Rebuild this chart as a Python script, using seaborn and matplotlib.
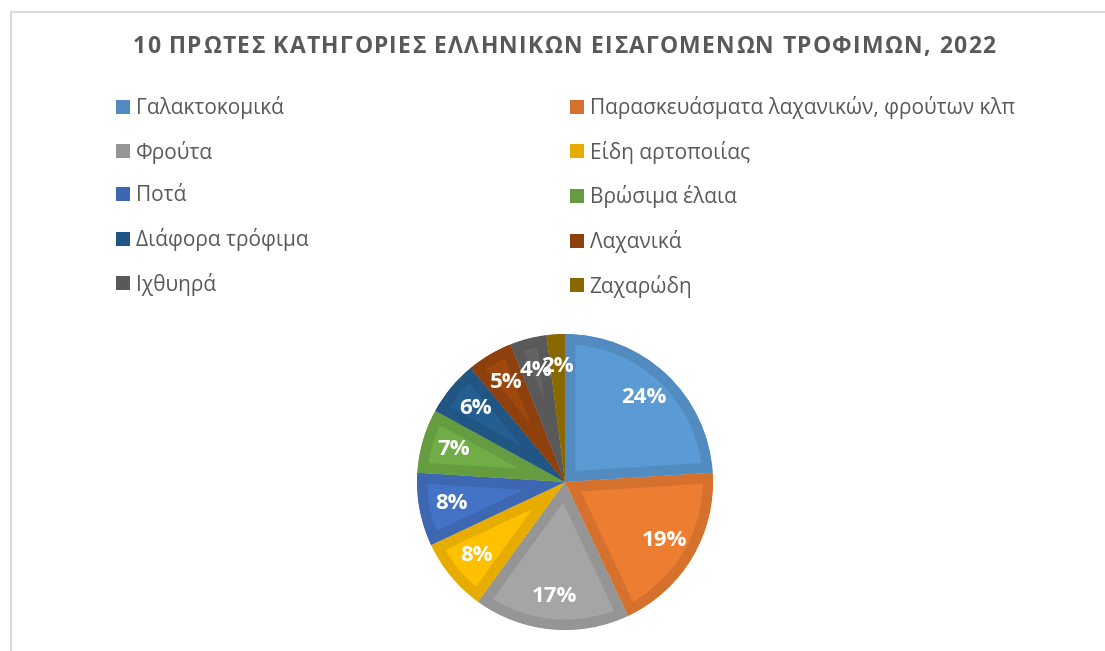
import matplotlib
matplotlib.use("Agg")
import matplotlib.pyplot as plt
from matplotlib.patches import Patch
from matplotlib.lines import Line2D
import seaborn as sns

categories = ["Γαλακτοκομικά", "Παρασκευάσματα λαχανικών, φρούτων κλπ", "Φρούτα",
              "Είδη αρτοποιίας", "Ποτά", "Βρώσιμα έλαια", "Διάφορα τρόφιμα",
              "Λαχανικά", "Ιχθυηρά", "Ζαχαρώδη"]
values = [24, 19, 17, 8, 8, 7, 6, 5, 4, 2]
title = "10 ΠΡΩΤΕΣ ΚΑΤΗΓΟΡΙΕΣ ΕΛΛΗΝΙΚΩΝ ΕΙΣΑΓΟΜΕΝΩΝ ΤΡΟΦΙΜΩΝ, 2022"

inner_colors = ["#5B9BD5", "#ED7D31", "#A5A5A5", "#FFC000", "#4472C4",
                "#70AD47", "#255E91", "#9E480E", "#636363", "#997300"]

sns.set_theme(style="white")
plt.rcParams["font.family"] = ["Open Sans", "DejaVu Sans"]

inner = sns.color_palette(inner_colors)
outer = [tuple(c * 0.9 for c in col) for col in inner]

W, H = 1105, 651
fig = plt.figure(figsize=(W / 100, H / 100), dpi=100)
fig.patch.set_facecolor("white")
renderer = fig.canvas.get_renderer()

# frame
fig.add_artist(Line2D([11 / W, 11 / W], [0, 1 - 12 / H], color="#D9D9D9", lw=1.5,
                      transform=fig.transFigure))
fig.add_artist(Line2D([11 / W, 1], [1 - 12 / H, 1 - 12 / H], color="#D9D9D9", lw=1.5,
                      transform=fig.transFigure))

# title with letter spacing
tkw = dict(fontsize=16.5, fontweight="bold", color="#595959", va="center", ha="left")


def text_width(s):
    t = fig.text(0, 0, s, **tkw)
    w = t.get_window_extent(renderer).width
    t.remove()
    return w


def char_adv(ch):
    if ch == " ":
        return text_width("Α Α") - text_width("ΑΑ")
    return text_width(ch)


advs = [char_adv(ch) for ch in title]
target_left, target_right = 133, 995
natural = sum(advs)
gap = (target_right - target_left - natural) / (len(title) - 1)
x = target_left
ty = 1 - 47 / H
for ch, a in zip(title, advs):
    if ch != " ":
        fig.text(x / W, ty, ch, **tkw)
    x += a + gap

# pie
cx, cy, r = 565, 482, 148
ax = fig.add_axes([(cx - r) / W, (H - cy - r) / H, 2 * r / W, 2 * r / H])
wedges, texts, autotexts = ax.pie(
    values, colors=inner, startangle=90, counterclock=False, radius=1,
    autopct="%1.0f%%", pctdistance=0.78,
    textprops=dict(color="white", fontsize=16, fontweight="bold"),
    wedgeprops=dict(linewidth=15, joinstyle="miter"))
for w, oc in zip(wedges, outer):
    w.set_edgecolor(oc)
    w.set_clip_on(True)
    w.set_clip_path(w)
ax.set_xlim(-1, 1)
ax.set_ylim(-1, 1)
ax.set_aspect("equal")
ax.axis("off")

# legends
handles = [Patch(facecolor=c, edgecolor="none") for c in outer]
col1 = list(range(0, 10, 2))
col2 = list(range(1, 10, 2))
for idx, x0 in ((col1, 116), (col2, 570)):
    fig.legend([handles[i] for i in idx], [categories[i] for i in idx],
               loc="upper left", bbox_to_anchor=(x0 / W, 1 - 96 / H),
               frameon=False, fontsize=15, borderpad=0, borderaxespad=0,
               handlelength=0.66, handleheight=0.66, handletextpad=0.28,
               labelspacing=1.04, labelcolor="#595959")

fig.savefig("out.png", dpi=100)
